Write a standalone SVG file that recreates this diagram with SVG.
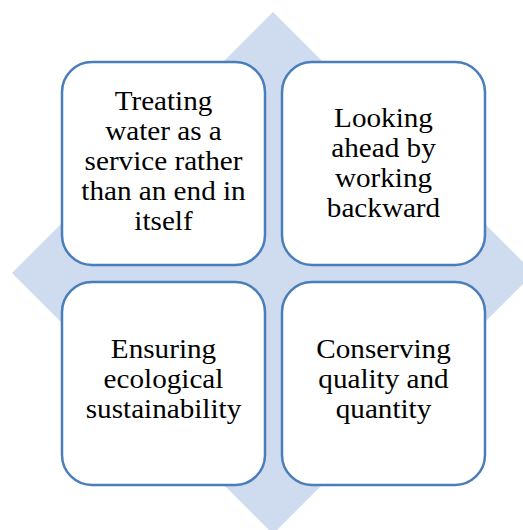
<svg xmlns="http://www.w3.org/2000/svg" width="523" height="530" viewBox="0 0 523 530">
  <style>
    .box { fill: #ffffff; stroke: #4a7ebb; stroke-width: 2.5; }
    .bg { fill: #cfdbee; }
    text { font-size: 27px; fill: #000000; text-anchor: middle; }
  </style>
  <rect width="523" height="530" fill="#ffffff"/>
  <!-- background diamond -->
  <polygon class="bg" points="273,12 534,273 273,534 12,273"/>
  <g id="connectors"/>
  <g font-family="Liberation Serif, serif">
  <g id="node-treating">
    <rect class="box" x="62" y="62" width="203" height="203" rx="30" ry="30"/>
    <g transform="translate(163.5,0) scale(1.08,1)">
      <text x="0" y="110">Treating</text>
      <text x="0" y="140">water as a</text>
      <text x="0" y="170">service rather</text>
      <text x="0" y="200">than an end in</text>
      <text x="0" y="230">itself</text>
    </g>
  </g>
  <g id="node-looking">
    <rect class="box" x="282" y="62" width="203" height="203" rx="30" ry="30"/>
    <g transform="translate(383.5,0) scale(1.08,1)">
      <text x="0" y="127">Looking</text>
      <text x="0" y="157">ahead by</text>
      <text x="0" y="187">working</text>
      <text x="0" y="217">backward</text>
    </g>
  </g>
  <g id="node-ensuring">
    <rect class="box" x="62" y="282" width="203" height="203" rx="30" ry="30"/>
    <g transform="translate(163.5,0) scale(1.08,1)">
      <text x="0" y="358">Ensuring</text>
      <text x="0" y="388">ecological</text>
      <text x="0" y="418">sustainability</text>
    </g>
  </g>
  <g id="node-conserving">
    <rect class="box" x="282" y="282" width="203" height="203" rx="30" ry="30"/>
    <g transform="translate(383.5,0) scale(1.08,1)">
      <text x="0" y="358">Conserving</text>
      <text x="0" y="388">quality and</text>
      <text x="0" y="418">quantity</text>
    </g>
  </g>
  </g>
</svg>
